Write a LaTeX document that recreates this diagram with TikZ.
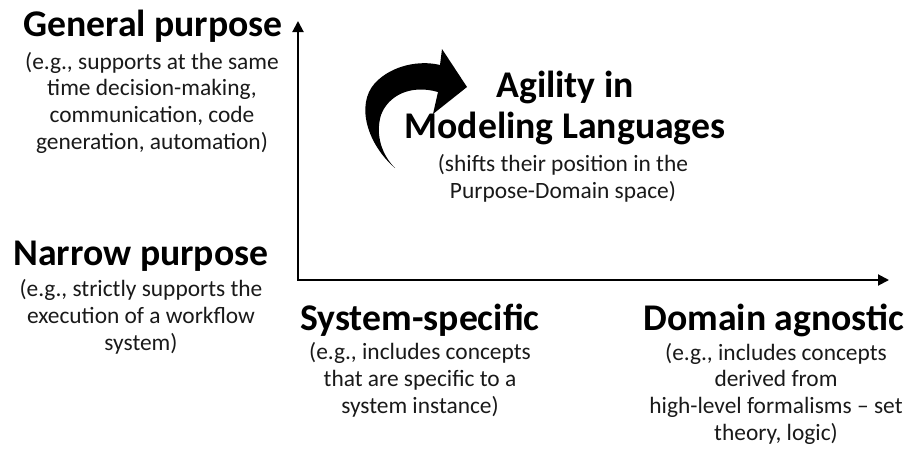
\documentclass[tikz,border=0pt]{standalone}
\usepackage{fontspec}
\setmainfont{Carlito}
\usetikzlibrary{arrows.meta}
\tikzset{
  ttl/.style={font=\bfseries\fontsize{37.7}{41}\selectfont, text=black, align=center, anchor=base, inner sep=0pt},
  sub/.style={font=\fontsize{23.4}{26.6}\selectfont, text=black!90, align=center, anchor=base, inner sep=0pt},
  axis/.style={line width=2pt, -{Triangle[length=11pt,width=11pt]}}
}
\begin{document}
\begin{tikzpicture}[x=1pt,y=-1pt]
\useasboundingbox (0,0) rectangle (908,450);
\coordinate (O) at (298,280);
\coordinate (Ytop) at (298,21);
\coordinate (Xend) at (889,280);
\draw[axis] (O) -- (Ytop);
\draw[axis] ([xshift=-1pt]O) -- (Xend);

% anchor=base is the baseline of the last line
\node[ttl] (gp) at (153,36) {General purpose};
\node[sub] (gps) at (152,149) {(e.g., supports at the same\\time decision-making,\\communication, code\\generation, automation)};

\node[ttl] (np) at (141,265) {Narrow purpose};
\node[sub] (nps) at (141,350) {(e.g., strictly supports the\\execution of a workflow\\system)};

\node[ttl] (ss) at (420,330) {System-specific};
\node[sub] (sss) at (420,413) {(e.g., includes concepts\\that are specific to a\\system instance)};

\node[ttl] (da) at (774,330) {Domain agnostic};
\node[sub] (das) at (776,440) {(e.g., includes concepts\\derived from\\high-level formalisms – set\\theory, logic)};

\node[ttl] (ag) at (565,138) {Agility in\\Modeling Languages};
\node[sub] (ags) at (563,198) {(shifts their position in the\\Purpose-Domain space)};

\fill[black] (395,168) .. controls (368,145) and (355,105) .. (375,83)
  .. controls (392,65) and (420,60) .. (440,65)
  -- (442,49) -- (467,87) -- (433,114) -- (438,92)
  .. controls (410,84) and (388,96) .. (381,115)
  .. controls (375,135) and (382,155) .. (395,168) -- cycle;
\end{tikzpicture}
\end{document}
